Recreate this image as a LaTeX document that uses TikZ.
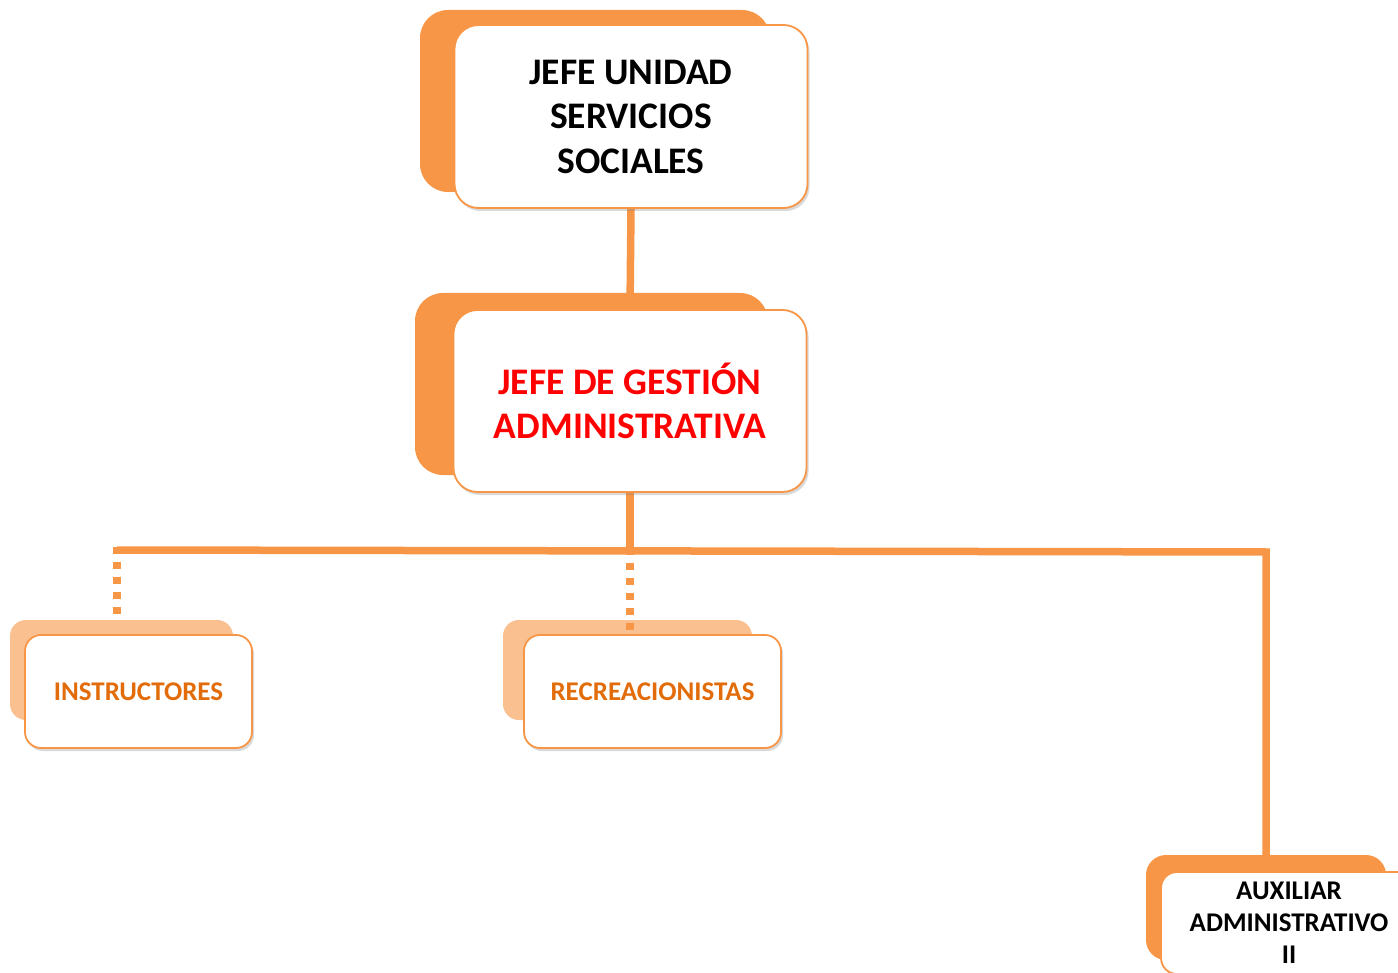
\documentclass[tikz,border=0pt]{standalone}
\usepackage{fontspec}
\setmainfont{Carlito}
\usetikzlibrary{positioning, shadows}
\definecolor{naranja}{HTML}{F79646}
\definecolor{naranjaclaro}{HTML}{FAC08F}
\definecolor{naranjatexto}{HTML}{E36C0A}
\pgfdeclarelayer{fondo}
\pgfdeclarelayer{lineas}
\pgfsetlayers{fondo,lineas,main}

\begin{document}
\begin{tikzpicture}
  [x=1pt, y=-1pt,
   fondo/.style={rectangle,fill=naranja,rounded corners=28pt,inner sep=0pt},
   fondoclaro/.style={fondo,fill=naranjaclaro,rounded corners=16pt},
   cargo/.style={rectangle,draw=naranja,line width=1.8pt,fill=white,
                 rounded corners=24pt,inner sep=0pt,align=center,
                 drop shadow={shadow xshift=2pt,shadow yshift=-3pt,opacity=.3}},
   cargochico/.style={cargo,rounded corners=16pt},
   titulo/.style={font=\fontsize{37.5}{44.5}\selectfont\bfseries},
   subtitulo/.style={font=\fontsize{27}{32}\selectfont\bfseries},
   enlace/.style={draw=naranja,line width=7.5pt},
   punteado/.style={enlace,dash pattern=on 7pt off 8pt}]
   \useasboundingbox (0,0) rectangle (1398,973);
   \begin{pgfonlayer}{fondo}
   \node[fondo,minimum width=350pt,minimum height=182pt]      (jefeA-f) at (595,101)    {};
   \node[fondo,minimum width=353pt,minimum height=182pt]      (jefeB-f) at (591.5,384)  {};
   \node[fondoclaro,minimum width=223pt,minimum height=100pt] (instr-f) at (121.5,670)  {};
   \node[fondoclaro,minimum width=249pt,minimum height=100pt] (recre-f) at (627.5,670)  {};
   \node[fondo,rounded corners=20pt,
         minimum width=240pt,minimum height=105pt]            (aux-f)   at (1266,907.5) {};
   \end{pgfonlayer}
   \node[cargo,titulo,minimum width=353pt,minimum height=183pt]
        (jefeA) at (631,116.5) {JEFE UNIDAD\\SERVICIOS\\SOCIALES};
   \node[cargo,titulo,text=red,minimum width=353pt,minimum height=182pt]
        (jefeB) at (630,401)   {JEFE DE GESTIÓN\\ADMINISTRATIVA};
   \node[cargochico,subtitulo,text=naranjatexto,minimum width=227pt,minimum height=113pt]
        (instr) at (138.5,691.5) {INSTRUCTORES};
   \node[cargochico,subtitulo,text=naranjatexto,minimum width=257pt,minimum height=113pt]
        (recre) at (652.5,691.5) {RECREACIONISTAS};
   \node[cargochico,subtitulo,minimum width=256pt,minimum height=102pt]
        (aux)   at (1289,923)    {AUXILIAR\\ADMINISTRATIVO\\II};
   % conectores
   \coordinate (ramal-i) at (117,550);
   \coordinate (ramal)   at (630,551);
   \coordinate (ramal-d) at (1266,552);
   \begin{pgfonlayer}{lineas}
   \draw[enlace] (jefeA.south) -- (jefeB.north);
   \draw[enlace] (jefeB.south) -- (ramal);
   \draw[enlace] (ramal-i) -- (ramal-d) -- (aux-f.north);
   \draw[punteado] ([yshift=3.5pt]ramal-i) -- (ramal-i |- instr-f.north);
   \draw[punteado] ([yshift=3.5pt]ramal) -- (ramal |- recre.north);
   \end{pgfonlayer}
\end{tikzpicture}
\end{document}
